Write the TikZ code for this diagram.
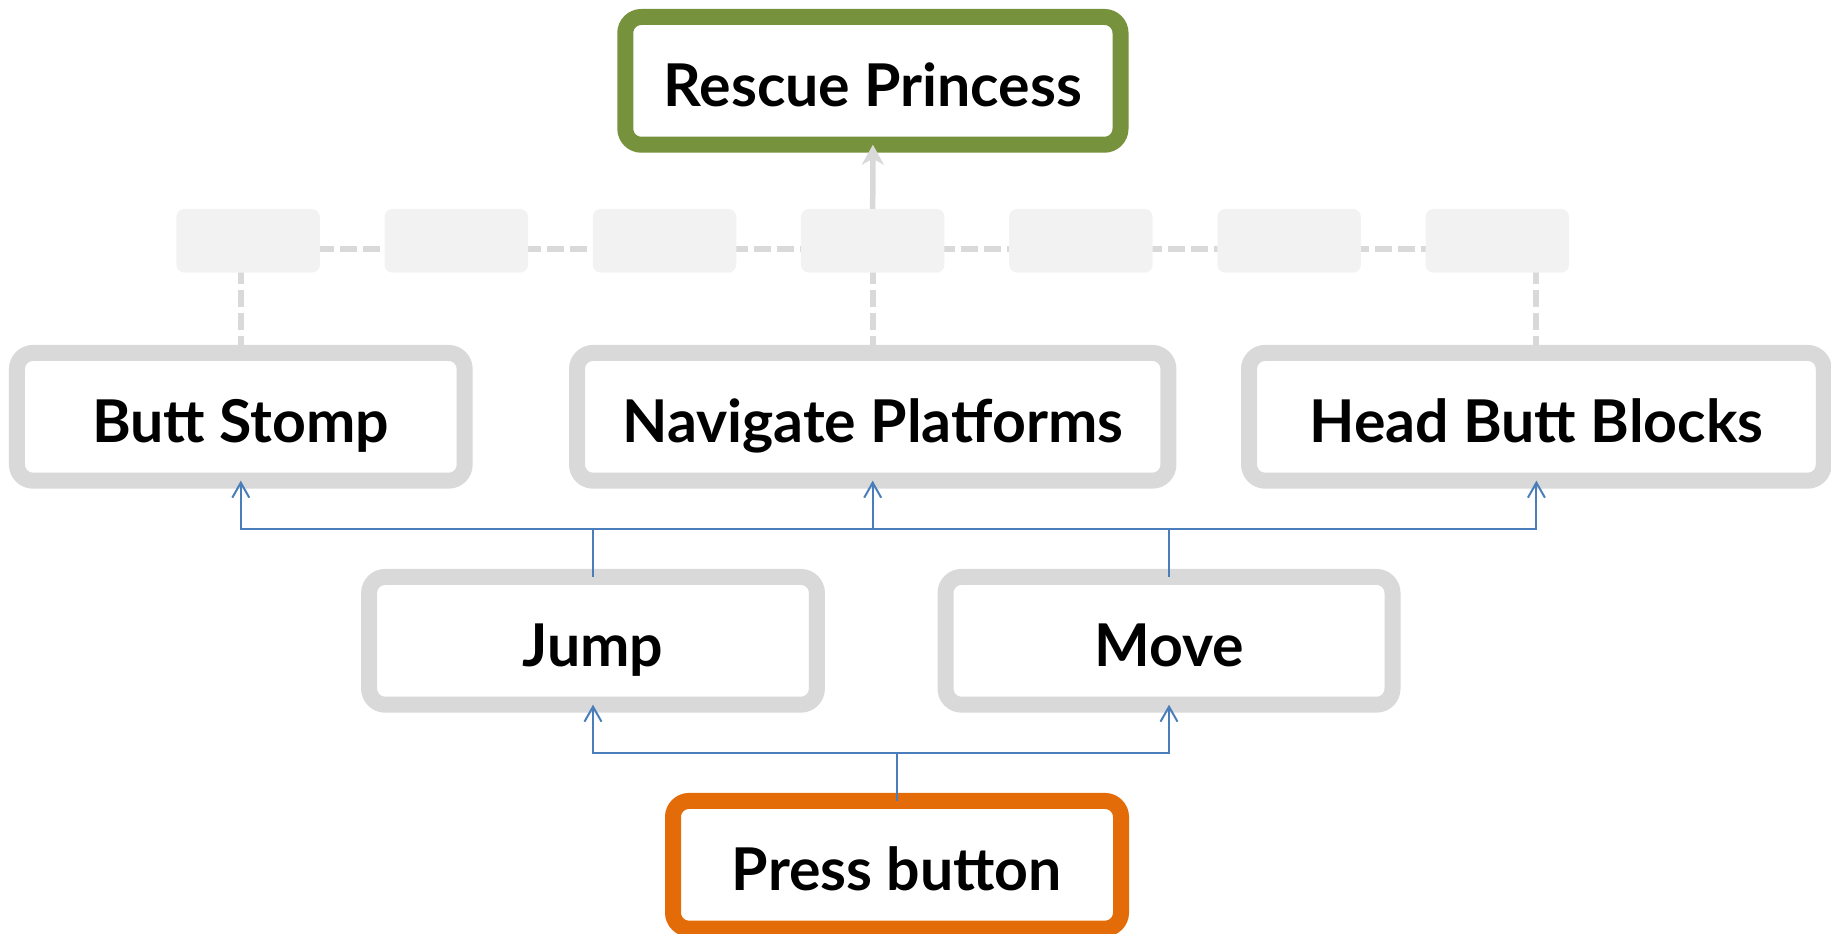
\documentclass[tikz,border=0pt]{standalone}
\usepackage{fontspec}
\setmainfont{Lato}
\usetikzlibrary{arrows.meta,calc}
\definecolor{boxgray}{HTML}{D9D9D9}
\definecolor{pale}{HTML}{F2F2F2}
\definecolor{goalgreen}{HTML}{76923C}
\definecolor{startorange}{HTML}{E36C09}
\definecolor{linkblue}{HTML}{4A7EBB}
\tikzset{
  skillbox/.style={draw=boxgray, line width=16pt, fill=white, rounded corners=16pt,
    minimum height=127.7pt, inner sep=0pt, outer sep=0pt,
    font=\fontsize{59}{70}\selectfont\bfseries, text height=52pt, text depth=0pt},
  goalbox/.style={skillbox, draw=goalgreen},
  startbox/.style={skillbox, draw=startorange},
  ghostbox/.style={fill=pale, draw=none, rounded corners=8pt, minimum width=143.5pt,
    minimum height=63.7pt, inner sep=0pt, outer sep=0pt},
  ghostline/.style={draw=boxgray, line width=6pt, dash pattern=on 17pt off 6pt},
  conn/.style={draw=linkblue, line width=2pt, -{Straight Barb[length=15pt,width=17pt,line width=2pt]}},
  plain/.style={draw=linkblue, line width=2pt}
}
\begin{document}
\begin{tikzpicture}[x=1pt,y=-1pt]
\useasboundingbox (0,0) rectangle (1831,934);
% ghost row coordinates
\foreach \k in {1,...,7} {
  \coordinate (gc\k) at ({872.7+(\k-4)*208.2},240.8);
}
\coordinate (dashy) at (0,248.7);
% dashed horizontal line behind ghost boxes
\draw[ghostline] (gc1 |- dashy) -- (gc7 |- dashy);
% main nodes
\node[goalbox, minimum width=495.2pt] (rescue) at (872.9,80.85) {Rescue Princess};
\node[skillbox, minimum width=447.7pt] (butt) at (240.8,416.8) {Butt Stomp};
\node[skillbox, minimum width=591.4pt] (nav) at (872.7,416.8) {Navigate Platforms};
\node[skillbox, minimum width=574.7pt] (head) at (1536.4,416.8) {Head Butt Blocks};
\node[skillbox, minimum width=447.8pt] (jump) at (593,640.8) {Jump};
\node[skillbox, minimum width=447pt] (move) at (1169,640.8) {Move};
\node[startbox, minimum width=448pt] (press) at (897,864.8) {Press button};
% dashed verticals
\draw[ghostline] (butt.north) -- (butt.north |- dashy);
\draw[ghostline] (nav.north) -- (nav.north |- dashy);
\draw[ghostline] (head.north) -- (head.north |- dashy);
% ghost boxes
\foreach \k in {1,...,7} {
  \node[ghostbox] (g\k) at (gc\k) {};
}
% gray arrow to goal
\draw[draw=boxgray, line width=5.5pt, -{Stealth[length=20pt,width=22pt,inset=6pt]}] (g4.north) -- (rescue.south);
% blue connectors
\coordinate (busa) at (0,529);
\coordinate (busb) at (0,752.7);
\draw[plain] (jump.north) -- (jump.north |- busa);
\draw[plain] (move.north) -- (move.north |- busa);
\draw[conn] (jump.north |- busa) -| (butt.south);
\draw[conn] (jump.north |- busa) -| (nav.south);
\draw[conn] (move.north |- busa) -| (head.south);
\draw[plain] (jump.north |- busa) -- (move.north |- busa);
\draw[plain] (press.north) -- (press.north |- busb);
\draw[conn] (press.north |- busb) -| (jump.south);
\draw[conn] (press.north |- busb) -| (move.south);
\end{tikzpicture}
\end{document}
